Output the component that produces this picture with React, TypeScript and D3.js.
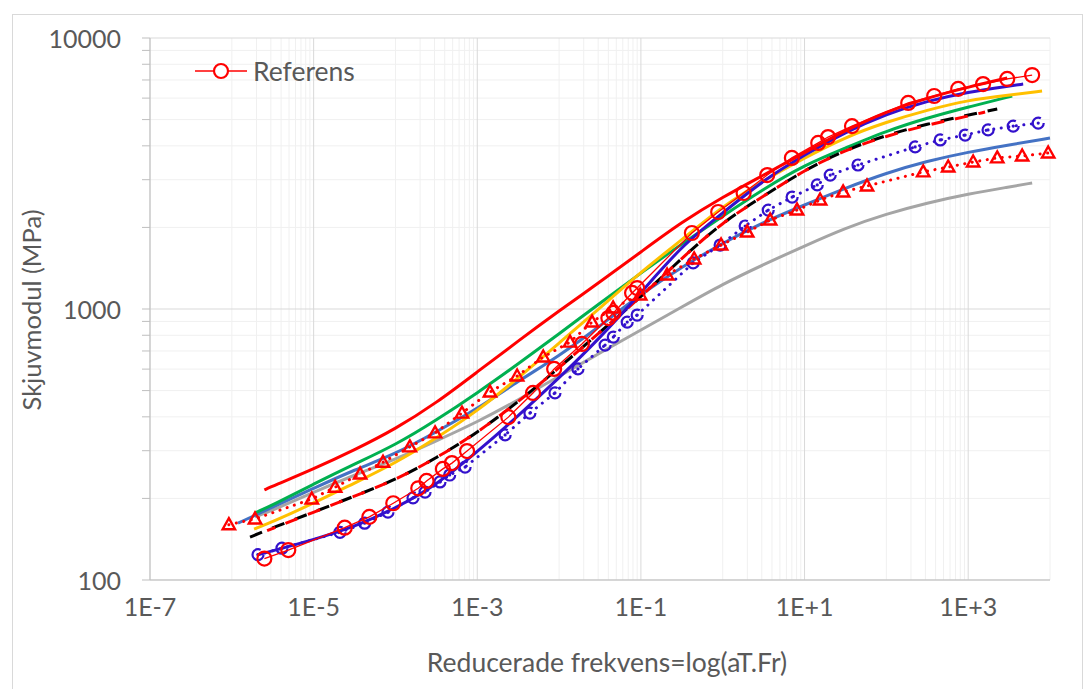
import React from "react";
import * as d3 from "d3";

// Referens - red circles, thin line
const refFreq = [2.5e-6, 4.9e-6, 2.4e-5, 4.8e-5, 9.4e-5, 1.9e-4, 2.4e-4, 3.8e-4, 4.9e-4, 7.5e-4, 2.4e-3, 4.8e-3, 8.7e-3, 1.9e-2, 4.0e-2, 4.6e-2, 7.8e-2, 9.0e-2, 0.42, 0.88, 1.8, 3.5, 7.0, 14.7, 19.4, 38, 185, 384, 755, 1520, 3000, 6050];
const refMod = [120, 129, 156, 171, 192, 218, 232, 257, 270, 299, 399, 490, 601, 743, 926, 967, 1146, 1195, 1907, 2280, 2680, 3120, 3610, 4100, 4310, 4730, 5760, 6110, 6490, 6760, 7060, 7300];

// purple dotted with circles
const purpFreq = [2.09e-6, 4.1e-6, 2.1e-5, 4.2e-5, 8.1e-5, 1.64e-4, 2.3e-4, 3.5e-4, 4.6e-4, 7.1e-4, 2.19e-3, 4.4e-3, 8.9e-3, 1.7e-2, 3.65e-2, 4.6e-2, 6.8e-2, 9.0e-2, 0.435, 0.93, 1.88, 3.6, 7.05, 14.3, 20.6, 45, 225, 455, 918, 1750, 3550, 7180];
const purpMod = [124, 131, 150, 162, 178, 201, 211, 230, 244, 261, 343, 413, 490, 601, 736, 788, 895, 950, 1479, 1722, 2024, 2318, 2589, 2870, 3121, 3399, 3963, 4205, 4385, 4580, 4730, 4853];

// red dotted with triangles
const triFreq = [9.2e-7, 1.92e-6, 9.5e-6, 1.83e-5, 3.7e-5, 7.05e-5, 1.5e-4, 3.05e-4, 6.5e-4, 1.43e-3, 3.07e-3, 6.4e-3, 1.36e-2, 2.53e-2, 4.57e-2, 9.8e-2, 0.209, 0.447, 0.955, 1.99, 3.8, 8.1, 15.5, 29.6, 58, 282, 570, 1150, 2265, 4570, 9500];
const triMod = [160, 168, 199, 220, 246, 272, 310, 349, 413, 494, 566, 665, 755, 895, 1009, 1127, 1335, 1530, 1722, 1923, 2129, 2318, 2524, 2704, 2844, 3205, 3342, 3487, 3610, 3670, 3765];

// smooth lines
const redFreq = [2.5e-6, 3.16e-6, 1e-5, 3.16e-5, 1e-4, 3.16e-4, 1e-3, 3.16e-3, 1e-2, 3.16e-2, 0.1, 0.316, 1, 3.16, 10, 31.6, 100, 316, 1000, 3000];
const redMod = [215, 222, 257, 302, 361, 450, 586, 762, 984, 1259, 1623, 2094, 2589, 3121, 3780, 4560, 5350, 6010, 6590, 7120];

const greenFreq = [1.92e-6, 3.16e-6, 1e-5, 3.16e-5, 1e-4, 3.16e-4, 1e-3, 3.16e-3, 1e-2, 3.16e-2, 0.1, 0.316, 1, 3.16, 10, 31.6, 100, 316, 1000, 3450];
const greenMod = [177, 189, 226, 268, 315, 389, 490, 627, 809, 1052, 1358, 1738, 2204, 2772, 3399, 3926, 4538, 5070, 5560, 6110];

const blueFreq = [1.19e-6, 3.16e-6, 1e-5, 3.16e-5, 1e-4, 3.16e-4, 1e-3, 3.16e-3, 1e-2, 3.16e-2, 0.1, 0.316, 1, 3.16, 10, 31.6, 100, 316, 1000, 3162, 10000];
const blueMod = [162, 186, 218, 255, 292, 352, 428, 542, 671, 865, 1136, 1429, 1753, 2094, 2420, 2795, 3177, 3516, 3795, 4029, 4276];

const goldFreq = [1.87e-6, 3.16e-6, 1e-5, 3.16e-5, 1e-4, 3.16e-4, 1e-3, 3.16e-3, 1e-2, 3.16e-2, 0.1, 0.316, 1, 3.16, 10, 31.6, 100, 316, 1000, 3162, 8000];
const goldMod = [154, 164, 192, 228, 270, 334, 420, 556, 749, 1009, 1370, 1798, 2400, 2980, 3610, 4310, 4897, 5420, 5905, 6160, 6370];

const grayFreq = [1.92e-6, 3.16e-6, 1e-5, 3.16e-5, 1e-4, 3.16e-4, 1e-3, 3.16e-3, 1e-2, 3.16e-2, 0.1, 0.316, 1, 3.16, 10, 31.6, 100, 316, 1000, 3162, 6050];
const grayMod = [171, 181, 211, 244, 279, 326, 383, 461, 566, 688, 837, 1017, 1236, 1460, 1708, 1991, 2243, 2462, 2656, 2820, 2918];

const blackFreq = [1.67e-6, 3.16e-6, 1e-5, 3.16e-5, 1e-4, 3.16e-4, 1e-3, 3.16e-3, 1e-2, 3.16e-2, 0.1, 0.316, 1, 3.16, 10, 31.6, 100, 316, 1000, 2265];
const blackMod = [144, 156, 178, 204, 234, 282, 349, 454, 606, 823, 1107, 1542, 2094, 2612, 3258, 3862, 4385, 4820, 5200, 5470];

const redDashFreq = [2.7e-6, 1e-5, 3.16e-5, 1e-4, 3.16e-4, 1e-3, 3.16e-3, 1e-2, 3.16e-2, 0.1, 0.316, 1, 3.16, 10, 31.6, 100, 316, 1000, 1610];
const redDashMod = [152, 178, 204, 234, 282, 349, 454, 606, 823, 1107, 1542, 2094, 2612, 3258, 3862, 4350, 4780, 5150, 5330];

const navyFreq = [2.09e-6, 3.16e-6, 1e-5, 3.16e-5, 1e-4, 3.16e-4, 1e-3, 3.16e-3, 1e-2, 3.16e-2, 0.1, 0.316, 1, 3.16, 10, 31.6, 100, 316, 1000, 3162, 4700];
const navyMod = [124, 128, 141, 157, 184, 224, 297, 403, 556, 782, 1146, 1715, 2261, 2992, 3701, 4498, 5244, 5859, 6321, 6651, 6760];

const xTicks = [1e-7, 1e-5, 1e-3, 1e-1, 1e1, 1e3];
const xTickLabels = ["1E-7", "1E-5", "1E-3", "1E-1", "1E+1", "1E+3"];
const yTicks = [100, 1000, 10000];

const FONT = "Lato, 'Open Sans', sans-serif";
const TXT = "#595959";
const PURPLE = "#3311CC";

const zip = (f: number[], m: number[]) => f.map((v, i) => [v, m[i]] as [number, number]);

export default function App() {
  const x = d3.scaleLog().domain([1e-7, 1e4]).range([150, 1050]);
  const y = d3.scaleLog().domain([100, 10000]).range([580, 38]);

  const smooth = d3.line<[number, number]>().x(d => x(d[0])).y(d => y(d[1])).curve(d3.curveBasis);
  const straight = d3.line<[number, number]>().x(d => x(d[0])).y(d => y(d[1]));

  // minor gridlines: x on log base 100 axis, y on base 10
  const xMinor: number[] = [];
  [-6, -4, -2, 0, 2].forEach(e => { for (let k = 1; k <= 9; k++) xMinor.push(k * Math.pow(10, e)); });
  xMinor.push(1e4);
  const yMinor: number[] = [];
  [100, 1000].forEach(b => { for (let k = 2; k <= 9; k++) yMinor.push(k * b); });

  const lines = [
    { d: zip(grayFreq, grayMod), c: "#A5A5A5" },
    { d: zip(blueFreq, blueMod), c: "#4472C4" },
    { d: zip(greenFreq, greenMod), c: "#00B050" },
    { d: zip(goldFreq, goldMod), c: "#FFC000" },
    { d: zip(blackFreq, blackMod), c: "#000000", dash: "13 11", off: 0 },
    { d: zip(redDashFreq, redDashMod), c: "#FF0000", dash: "13 11", off: 4 },
    { d: zip(navyFreq, navyMod), c: PURPLE },
    { d: zip(redFreq, redMod), c: "#FF0000" },
  ];

  const purp = zip(purpFreq, purpMod);
  const tri = zip(triFreq, triMod);
  const ref = zip(refFreq, refMod);

  return (
    <svg width={1092} height={689} style={{ position: "absolute", left: 0, top: 0, background: "#fff" }}>
      <rect x={12.5} y={14.5} width={1070} height={700} fill="#fff" stroke="#D9D9D9" />
      {yMinor.map(v => <line key={"ym" + v} x1={150} x2={1050} y1={y(v)} y2={y(v)} stroke="#F0F0F0" />)}
      {xMinor.map(v => <line key={"xm" + v} x1={x(v)} x2={x(v)} y1={38} y2={580} stroke="#F0F0F0" />)}
      {yTicks.map(v => <line key={"yM" + v} x1={150} x2={1050} y1={y(v)} y2={y(v)} stroke="#D9D9D9" />)}
      {xTicks.map(v => <line key={"xM" + v} x1={x(v)} x2={x(v)} y1={38} y2={580} stroke="#D9D9D9" />)}
      {/* axes */}
      <line x1={150} x2={150} y1={38} y2={580} stroke="#BFBFBF" />
      <line x1={150} x2={1050} y1={580} y2={580} stroke="#BFBFBF" />
      {[...yMinor, ...yTicks].map(v => <line key={"yt" + v} x1={142} x2={150} y1={y(v)} y2={y(v)} stroke="#BFBFBF" />)}
      {yTicks.map(v => (
        <text key={"yl" + v} x={121} y={y(v)} textAnchor="end" dominantBaseline="central" fontFamily={FONT} fontSize={25} fill={TXT}>{v}</text>
      ))}
      {xTicks.map((v, i) => (
        <text key={"xl" + v} x={x(v)} y={606} textAnchor="middle" dominantBaseline="central" fontFamily={FONT} fontSize={25} fill={TXT}>{xTickLabels[i]}</text>
      ))}
      <text x={607} y={662} textAnchor="middle" dominantBaseline="central" fontFamily={FONT} fontSize={26.5} fill={TXT}>Reducerade frekvens=log(aT.Fr)</text>
      <text transform="translate(31,310) rotate(-90)" textAnchor="middle" dominantBaseline="central" fontFamily={FONT} fontSize={25.5} fill={TXT}>Skjuvmodul (MPa)</text>

      {lines.map((l, i) => (
        <path key={"l" + i} d={smooth(l.d) || ""} fill="none" stroke={l.c} strokeWidth={3}
          strokeDasharray={l.dash} strokeDashoffset={l.off} />
      ))}

      {/* purple dotted with circles */}
      <path d={straight(purp) || ""} fill="none" stroke={PURPLE} strokeWidth={3} strokeDasharray="0.1 7.5" strokeLinecap="round" />
      {purp.map((p, i) => (
        <g key={"pc" + i} transform={`translate(${x(p[0])},${y(p[1])})`}>
          <circle r={5.5} fill="none" stroke={PURPLE} strokeWidth={2.2} strokeDasharray="28 6.5" />
          <circle r={1.6} fill={PURPLE} />
        </g>
      ))}

      {/* red dotted with triangles */}
      <path d={straight(tri) || ""} fill="none" stroke="#FF0000" strokeWidth={3} strokeDasharray="0.1 7.5" strokeLinecap="round" />
      {tri.map((p, i) => (
        <path key={"tr" + i} transform={`translate(${x(p[0])},${y(p[1])})`} d="M0,-6.5L6.2,4.5L-6.2,4.5Z"
          fill="none" stroke="#FF0000" strokeWidth={2.4} strokeLinejoin="miter" />
      ))}

      {/* Referens */}
      <path d={straight(ref) || ""} fill="none" stroke="#FF0000" strokeWidth={1.3} />
      {ref.map((p, i) => (
        <circle key={"rc" + i} cx={x(p[0])} cy={y(p[1])} r={7} fill="none" stroke="#FF0000" strokeWidth={2.2} />
      ))}

      {/* legend */}
      <line x1={195} x2={247} y1={71} y2={71} stroke="#FF0000" strokeWidth={1.5} />
      <circle cx={221} cy={71} r={7} fill="#fff" stroke="#FF0000" strokeWidth={2.2} />
      <text x={253} y={71} dominantBaseline="central" fontFamily={FONT} fontSize={26.5} fill={TXT}>Referens</text>
    </svg>
  );
}
